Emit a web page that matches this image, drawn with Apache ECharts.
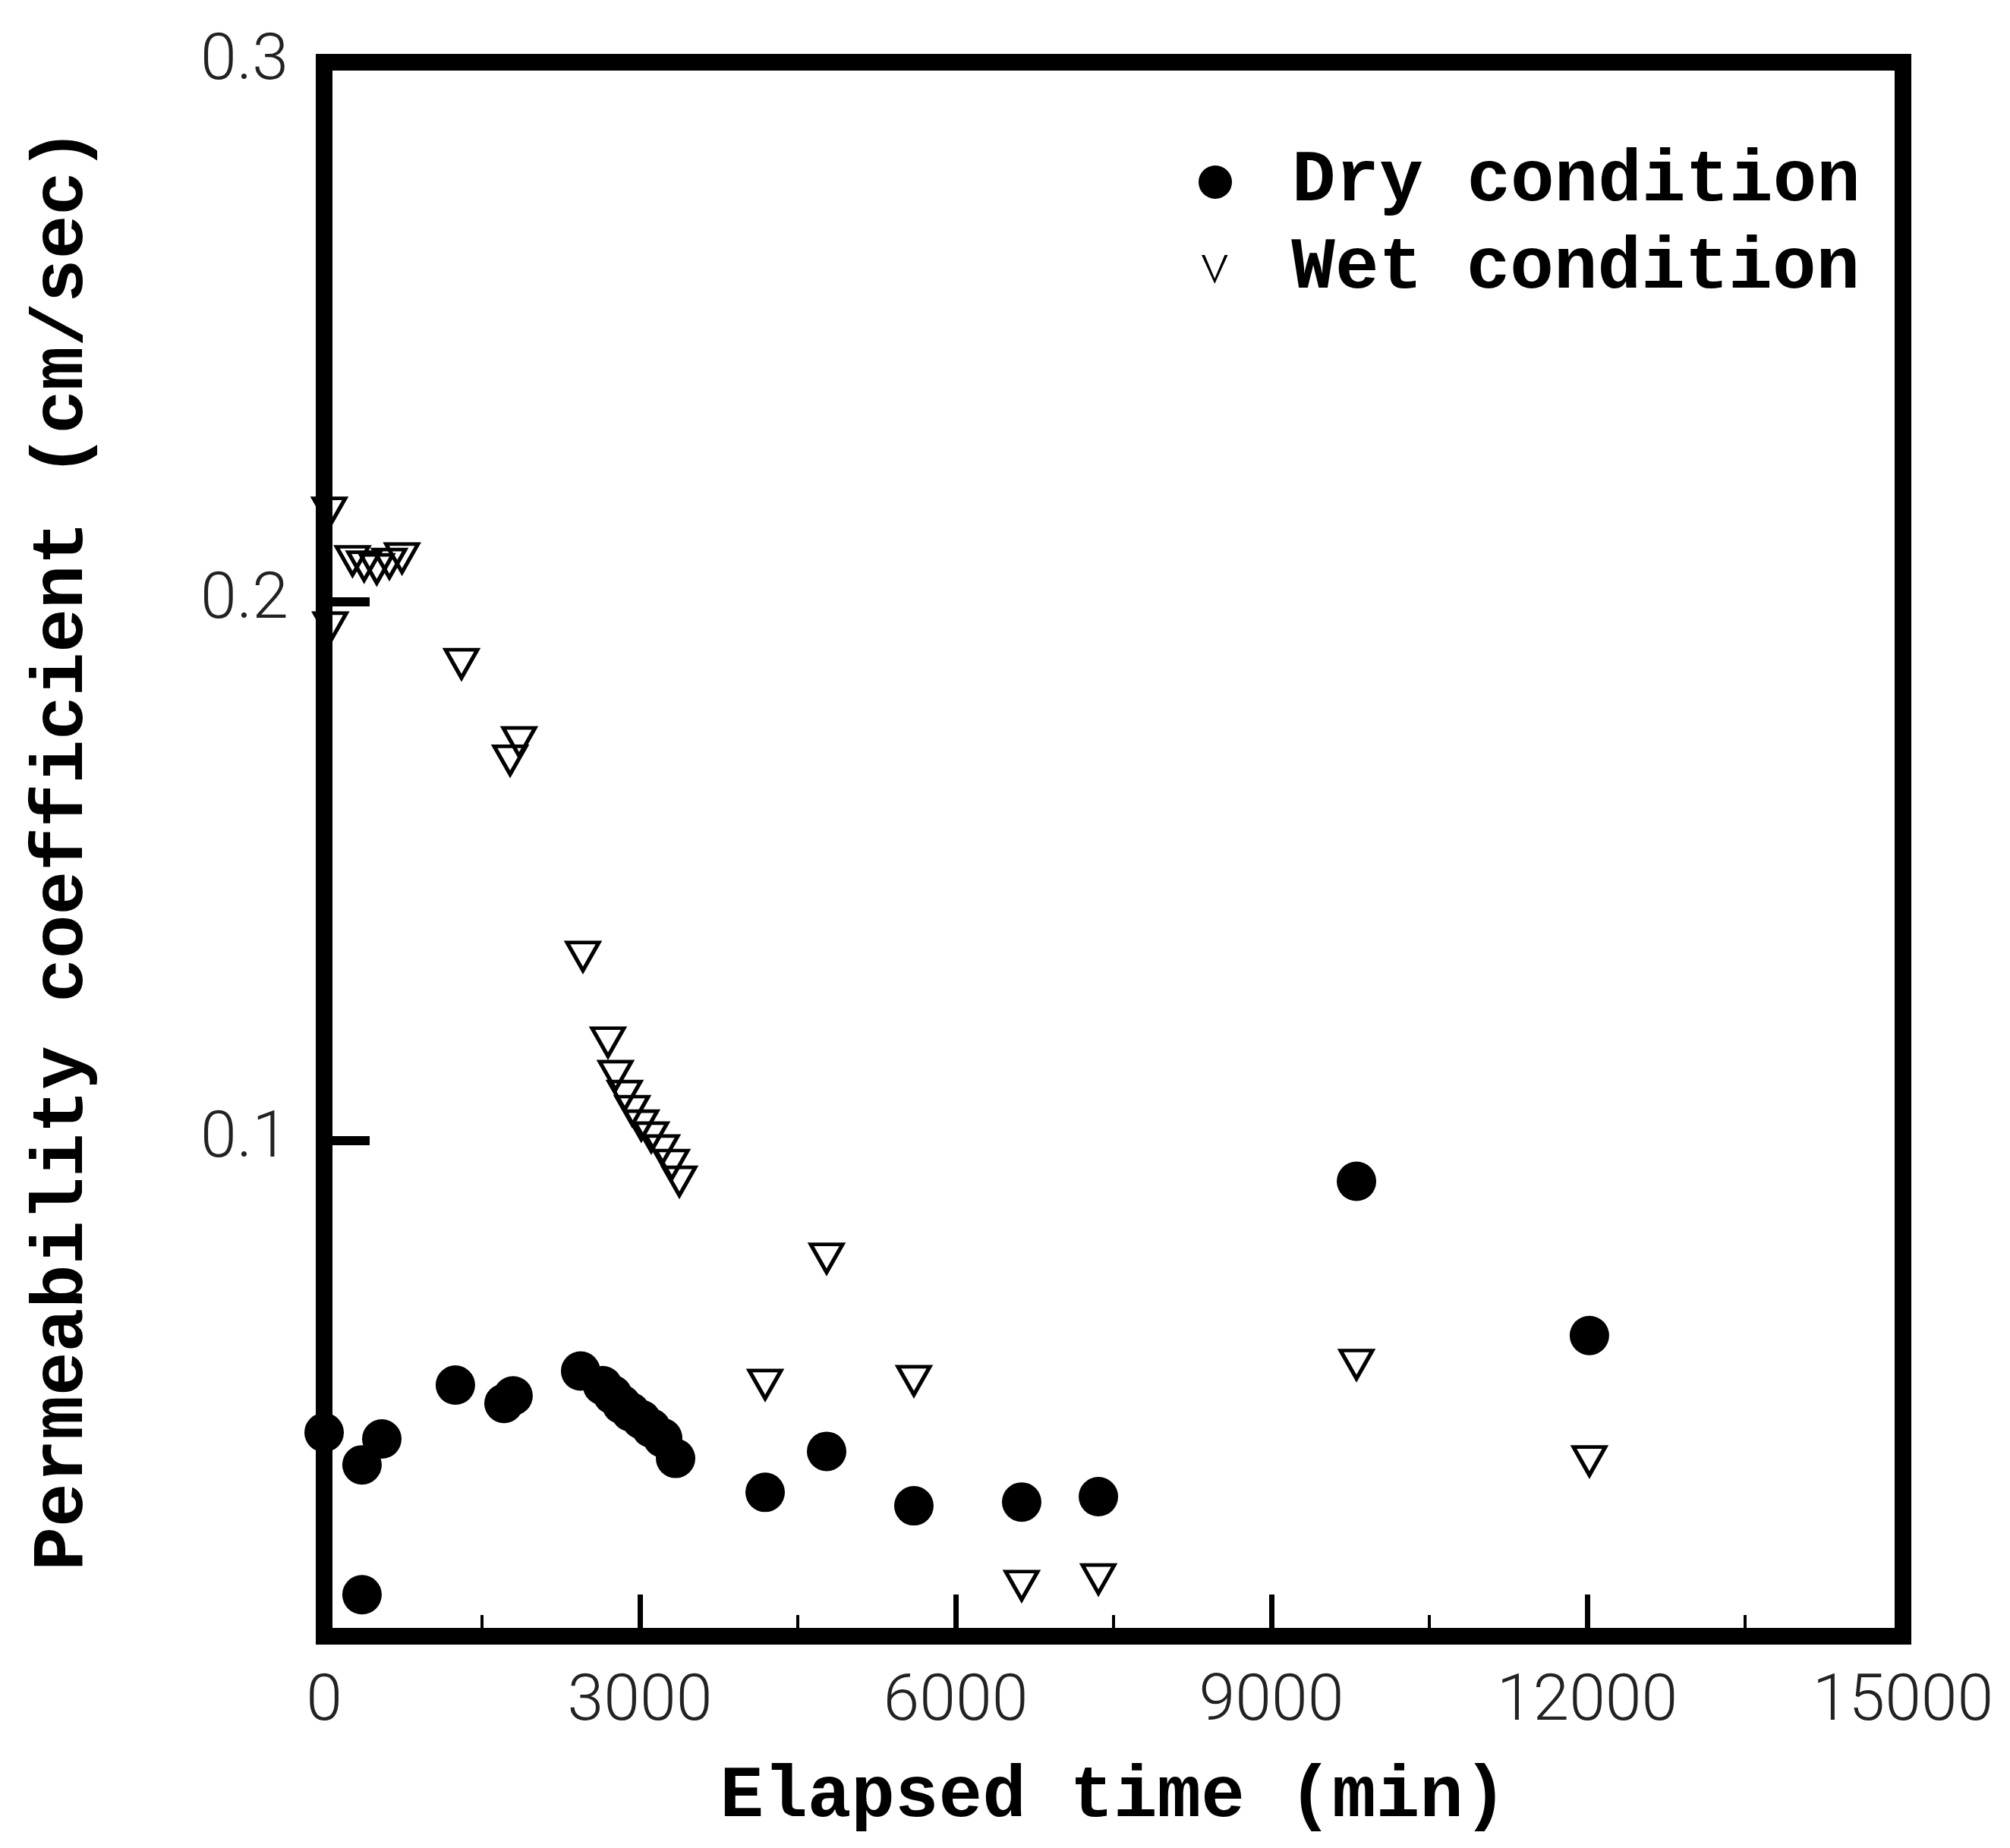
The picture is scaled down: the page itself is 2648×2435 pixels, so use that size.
<!DOCTYPE html>
<html>
<head>
<meta charset="utf-8">
<title>Permeability coefficient vs elapsed time</title>
<script src="https://cdn.jsdelivr.net/npm/echarts@6/dist/echarts.min.js"></script>
<style>
  html, body { margin: 0; padding: 0; background: #fff; }
  #chart { width: 2648px; height: 2435px; }
</style>
</head>
<body>
<div id="chart"></div>
<script>
// elapsed time (min) and permeability coefficient (cm/sec)
const dryTime = [0, 360, 548, 360, 1247, 1709, 1795, 2437, 2646, 2741, 2827, 2913, 3013, 3108, 3216, 3339, 4190, 4774, 5603, 6627, 7356, 9808, 12021];
const dryK = [0.0458, 0.0398, 0.0446, 0.0157, 0.0546, 0.0512, 0.0526, 0.0572, 0.0545, 0.0528, 0.0510, 0.0496, 0.0482, 0.0466, 0.0448, 0.0410, 0.0347, 0.0423, 0.0322, 0.0329, 0.0339, 0.0924, 0.0638];

const wetTime = [50, 60, 270, 380, 500, 620, 740, 1305, 1767, 1853, 2459, 2697, 2769, 2856, 2928, 3013, 3108, 3209, 3303, 3375, 4190, 4774, 5603, 6627, 7356, 9808, 12021];
const wetK = [0.2165, 0.1952, 0.2075, 0.2065, 0.2060, 0.2070, 0.2080, 0.1884, 0.1705, 0.1739, 0.1341, 0.1182, 0.1120, 0.1083, 0.1055, 0.1028, 0.1006, 0.0982, 0.0955, 0.0924, 0.0547, 0.0781, 0.0554, 0.0174, 0.0186, 0.0584, 0.0405];

const xTicks = [0, 3000, 6000, 9000, 12000, 15000];
const yTicks = [0.1, 0.2, 0.3];

const chart = echarts.init(document.getElementById("chart"));

const titleFont = "'Liberation Mono', 'DejaVu Sans Mono', monospace";
const tickFont = "Roboto, 'DejaVu Sans', sans-serif";

const option = {
  backgroundColor: "#fff",
  animation: false,
  grid: {
    left: 427,
    top: 82,
    width: 2080,
    height: 2074,
    show: true,
    borderColor: "#000",
    borderWidth: 22,
    backgroundColor: "transparent",
  },
  legend: [
    {
      data: [{ name: "Dry condition", icon: "circle" }],
      left: 1579,
      top: 192,
      padding: 0,
      itemWidth: 44,
      itemHeight: 44,
      selectedMode: false,
      itemStyle: { opacity: 1 },
      textStyle: {
        fontFamily: titleFont,
        fontWeight: "bold",
        fontSize: 96,
        color: "#000",
        padding: [0, 0, 0, 74],
      },
    },
    {
      data: [{ name: "Wet condition", icon: "path://M0,0L1.2,0L5,9L8.8,0L10,0L5,11Z" }],
      left: 1583,
      top: 307,
      padding: 0,
      itemWidth: 36,
      itemHeight: 38,
      selectedMode: false,
      itemStyle: { color: "#000", borderWidth: 0, opacity: 1 },
      textStyle: {
        fontFamily: titleFont,
        fontWeight: "bold",
        fontSize: 96,
        color: "#000",
        padding: [0, 0, 0, 78],
      },
    },
  ],
  xAxis: {
    type: "value",
    min: 0,
    max: 15000,
    interval: 3000,
    name: "Elapsed time (min)",
    nameLocation: "middle",
    nameGap: 165,
    nameTextStyle: {
      fontFamily: titleFont,
      fontWeight: "bold",
      fontSize: 96,
      color: "#000",
    },
    axisLine: { show: true, lineStyle: { color: "#000", width: 22 } },
    axisTick: {
      show: true,
      inside: true,
      length: 55,
      lineStyle: { color: "#000", width: 7 },
    },
    minorTick: {
      show: true,
      splitNumber: 2,
      length: 28,
      lineStyle: { color: "#000", width: 4 },
    },
    splitLine: { show: false },
    axisLabel: {
      margin: 45,
      fontFamily: tickFont,
      fontWeight: 300,
      fontSize: 86,
      color: "#222",
      customValues: xTicks,
      formatter: (v) => String(v),
    },
  },
  yAxis: {
    type: "value",
    min: 0.008,
    max: 0.3,
    name: "Permeability coefficient (cm/sec)",
    nameLocation: "middle",
    nameGap: 295,
    nameTextStyle: {
      fontFamily: titleFont,
      fontWeight: "bold",
      fontSize: 96,
      color: "#000",
    },
    axisLine: { show: true, lineStyle: { color: "#000", width: 22 } },
    axisTick: {
      show: true,
      inside: true,
      length: 60,
      customValues: [0.1, 0.2],
      lineStyle: { color: "#000", width: 12 },
    },
    splitLine: { show: false },
    axisLabel: {
      margin: 47,
      fontFamily: tickFont,
      fontWeight: 300,
      fontSize: 86,
      color: "#222",
      customValues: yTicks,
      formatter: (v) => v.toFixed(1),
    },
  },
  series: [
    {
      name: "Dry condition",
      type: "scatter",
      clip: false,
      symbol: "circle",
      symbolSize: 52,
      itemStyle: { color: "#000", opacity: 1 },
      data: dryTime.map((t, i) => [t, dryK[i]]),
    },
    {
      name: "Wet condition",
      type: "scatter",
      clip: false,
      symbol: "path://M0,0L10,0L5,8.7Z",
      symbolSize: [42, 37],
      itemStyle: {
        color: "rgba(0,0,0,0)",
        borderColor: "#000",
        borderWidth: 5,
        opacity: 1,
      },
      data: wetTime.map((t, i) => [t, wetK[i]]),
    },
  ],
};

chart.setOption(option);
</script>
</body>
</html>
